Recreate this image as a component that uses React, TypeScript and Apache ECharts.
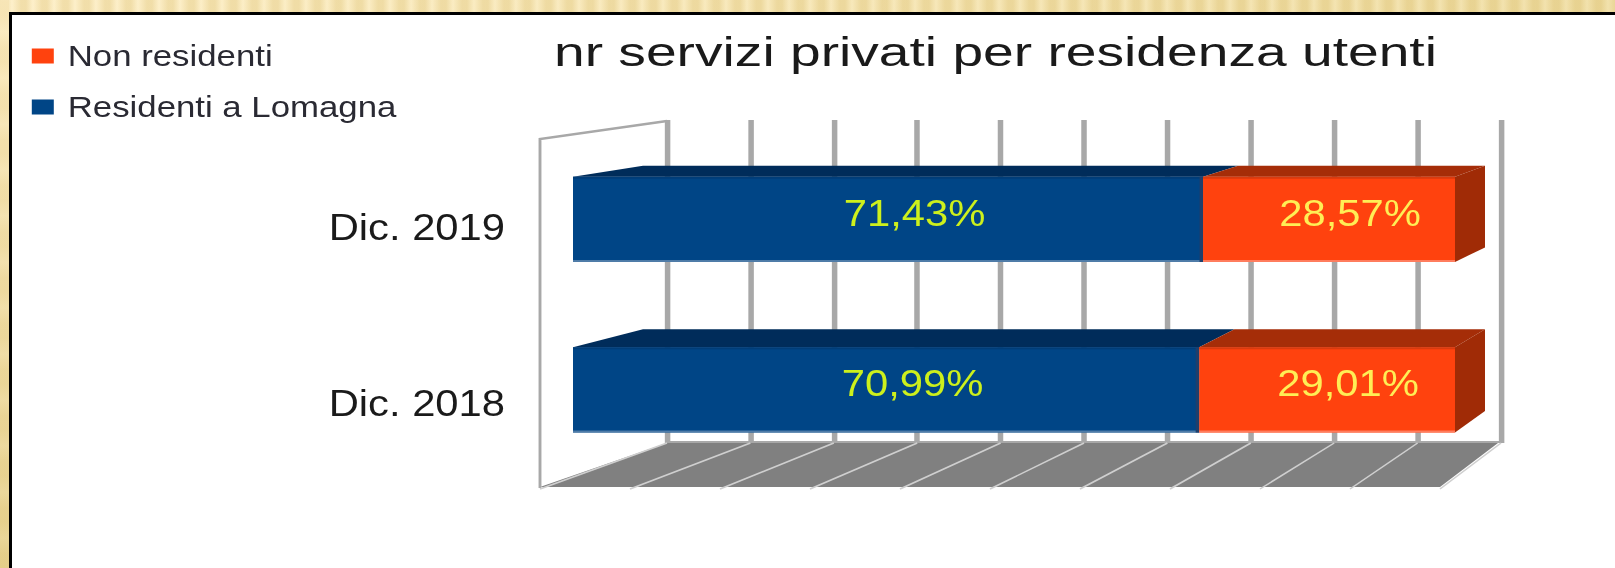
import React, { useEffect, useRef } from "react";
import * as echarts from "echarts";

const categories = ["Dic. 2018", "Dic. 2019"];
const residentNames = "Residenti a Lomagna";
const nonResidentNames = "Non residenti";
const residenti = [70.99, 71.43];
const nonResidenti = [29.01, 28.57];
const gridTicks = [0, 10, 20, 30, 40, 50, 60, 70, 80, 90, 100];
const titleText = "nr servizi privati per residenza utenti";

// The reference picture is stretched sideways; the chart is drawn narrower and widened by CSS.
const SX = 1.16;
const W = 1615;
const H = 568;
const X = (px: number) => px / SX;
const FONT = "'Liberation Sans', Arial, sans-serif";
const BLUE = "#004586";
const BLUE_TOP = "#002c5a";
const ORANGE = "#ff420e";
const ORANGE_TOP = "#a52d08";
const GRID = "#a8a8a8";

const lerp = (x: number, xs: number[], ys: number[]) => {
  if (x <= xs[1]) return ys[0] + ((x - xs[0]) / (xs[1] - xs[0])) * (ys[1] - ys[0]);
  return ys[1] + ((x - xs[1]) / (xs[2] - xs[1])) * (ys[2] - ys[1]);
};
const depthX = (screenX: number) => lerp(screenX, [573, 1205, 1455], [70, 35, 30]) / SX;
const depthY = (y: number) => 11 + (y - 177) * 0.041;
const pct = (v: number) => v.toFixed(2).replace(".", ",") + "%";

const floorBackY = 443;
const floorFrontY = 487;

function renderBarFaces(_: any, api: any) {
  const cat = api.value(0);
  const start = api.value(1);
  const end = api.value(2);
  const isLast = api.value(3) === 1;
  const half = (api.size([0, 1])[1] * 0.5) / 2;
  const [x0, yc] = api.coord([start, cat]);
  const [x1] = api.coord([end, cat]);
  const top = yc - half;
  const bottom = yc + half;
  const back = (x: number, y: number) => [x + depthX(x * SX), y - depthY(y)];
  const children: any[] = [
    {
      type: "polygon",
      shape: { points: [[x0, top], [x1, top], back(x1, top), back(x0, top)] },
      style: { fill: isLast ? ORANGE_TOP : BLUE_TOP },
    },
    {
      type: "line",
      shape: { x1: x0, y1: top + 1, x2: x1, y2: top + 1 },
      style: { stroke: isLast ? "#d93a0e" : "#003d78", lineWidth: 2 },
    },
    {
      type: "line",
      shape: { x1: x0, y1: bottom - 1, x2: x1, y2: bottom - 1 },
      style: { stroke: isLast ? "#ff7d5e" : "#4f7ca8", lineWidth: 2 },
    },
  ];
  if (isLast) {
    children.push({
      type: "polygon",
      shape: { points: [[x1, top], back(x1, top), back(x1, bottom), [x1, bottom]] },
      style: { fill: "#a02b06" },
    });
  } else {
    children.push({
      type: "line",
      shape: { x1: x1 - 1.5, y1: top, x2: x1 - 1.5, y2: bottom },
      style: { stroke: "#1f3f6b", lineWidth: 3 },
    });
  }
  return { type: "group", children };
}

function renderFloorLine(_: any, api: any) {
  const v = api.value(0);
  const [bx] = api.coord([v, 0]);
  const fx = X(540 + v * 9);
  return {
    type: "line",
    shape: { x1: bx, y1: floorBackY, x2: fx, y2: floorFrontY + 2 },
    style: { stroke: "#cfcfcf", lineWidth: 1.5 },
  };
}

export default function App() {
  const ref = useRef<HTMLDivElement>(null);
  useEffect(() => {
    document.body.style.margin = "0";
    const chart = echarts.init(ref.current!, null, { renderer: "svg" });
    const faces = categories.flatMap((_, i) => [
      [i, 0, residenti[i], 0],
      [i, residenti[i], residenti[i] + nonResidenti[i], 1],
    ]);
    const barLabel = (color: string, dx: number) => ({
      show: true,
      position: "inside" as const,
      offset: [X(dx), -6],
      color,
      fontFamily: FONT,
      fontSize: 36,
      formatter: (p: any) => pct(p.value),
    });
    chart.setOption({
      animation: false,
      backgroundColor: "transparent",
      legend: {
        orient: "vertical",
        left: X(26),
        top: 36,
        itemWidth: X(22),
        itemHeight: 15,
        itemGap: 21,
        icon: "rect",
        selectedMode: false,
        data: [nonResidentNames, residentNames],
        textStyle: { fontFamily: FONT, fontSize: 30, color: "#2a2a33", padding: [0, 0, 0, 7] },
      },
      grid: [
        { left: X(667), width: X(834), top: 120, height: 323, containLabel: false },
        { left: X(573), width: X(882), top: 134, height: 341, containLabel: false },
        { left: X(511), width: X(100), top: 140, height: 352, containLabel: false },
      ],
      xAxis: [
        {
          gridIndex: 0, type: "value", min: 0, max: 100, interval: 10,
          axisLine: { show: false }, axisTick: { show: false }, axisLabel: { show: false },
          splitLine: { show: true, lineStyle: { color: GRID, width: X(5.5) } },
        },
        { gridIndex: 1, type: "value", min: 0, max: 100, show: false, splitLine: { show: false } },
        { gridIndex: 2, type: "value", min: 0, max: 100, show: false, splitLine: { show: false } },
      ],
      yAxis: [
        { gridIndex: 0, type: "category", data: categories, show: false },
        { gridIndex: 1, type: "category", data: categories, show: false },
        {
          gridIndex: 2, type: "category", data: categories,
          axisLine: { show: false }, axisTick: { show: false }, splitLine: { show: false },
          axisLabel: { fontFamily: FONT, fontSize: 36, color: "#1a1a1a", margin: X(6) },
        },
      ],
      series: [
        {
          type: "custom", xAxisIndex: 0, yAxisIndex: 0, z: 1, silent: true,
          renderItem: renderFloorLine, data: gridTicks.map((t) => [t]),
          encode: { x: 0 },
        },
        {
          name: residentNames, type: "bar", stack: "t", xAxisIndex: 1, yAxisIndex: 1,
          barWidth: "50%", z: 3, data: residenti,
          itemStyle: { color: BLUE }, label: barLabel("#cdf01c", 26.5),
        },
        {
          name: nonResidentNames, type: "bar", stack: "t", xAxisIndex: 1, yAxisIndex: 1,
          barWidth: "50%", z: 3, data: nonResidenti,
          itemStyle: { color: ORANGE }, label: barLabel("#ffee55", 21),
        },
        {
          type: "custom", xAxisIndex: 1, yAxisIndex: 1, z: 4, silent: true,
          renderItem: renderBarFaces, data: faces,
          encode: { x: [1, 2], y: 0 },
        },
      ],
      graphic: [
        {
          type: "polygon", z: 0, silent: true,
          shape: { points: [[X(667), floorBackY], [X(1498), floorBackY], [X(1440), floorFrontY], [X(540), floorFrontY]] },
          style: { fill: "#808080" },
        },
        {
          type: "line", z: 0, silent: true,
          shape: { x1: X(667), y1: 442, x2: X(1501), y2: 442 },
          style: { stroke: GRID, lineWidth: 2 },
        },
        {
          type: "polyline", z: 0, silent: true,
          shape: { points: [[X(540), 488], [X(540), 139], [X(667), 121]] },
          style: { stroke: GRID, lineWidth: 2.5, fill: "none" },
        },
        {
          type: "text", x: X(554), y: 52, scaleX: 1.16, silent: true,
          style: { text: titleText, fontFamily: FONT, fontSize: 41, fill: "#1a1a1a", textVerticalAlign: "middle" },
        },
      ],
    });
    return () => chart.dispose();
  }, []);

  const topBand =
    "repeating-linear-gradient(90deg, rgba(225,200,130,.4) 0 5px, rgba(255,245,215,.3) 12px, rgba(225,200,130,.4) 21px), linear-gradient(90deg, #fdeec6, #ecd99a)";
  const leftBand =
    "repeating-linear-gradient(0deg, rgba(225,200,130,.15) 0 14px, rgba(255,245,215,.15) 30px, rgba(225,200,130,.15) 46px), linear-gradient(180deg, #fbeabf, #e5cf8a)";
  return (
    <div style={{ position: "fixed", left: 0, top: 0, width: W, height: H, overflow: "hidden", background: "#fff" }}>
      <div style={{ position: "absolute", left: 0, top: 0, width: W, height: 12, background: topBand }} />
      <div style={{ position: "absolute", left: 0, top: 0, width: 9, height: H, background: leftBand }} />
      <div style={{ position: "absolute", left: 9, top: 12, width: W - 9, height: 3, background: "#000" }} />
      <div style={{ position: "absolute", left: 9, top: 12, width: 3, height: H - 12, background: "#000" }} />
      <div
        ref={ref}
        style={{
          position: "absolute",
          left: 0,
          top: 0,
          width: W / SX,
          height: H,
          transform: `scaleX(${SX})`,
          transformOrigin: "0 0",
          filter: "blur(0.5px)",
        }}
      />
    </div>
  );
}
